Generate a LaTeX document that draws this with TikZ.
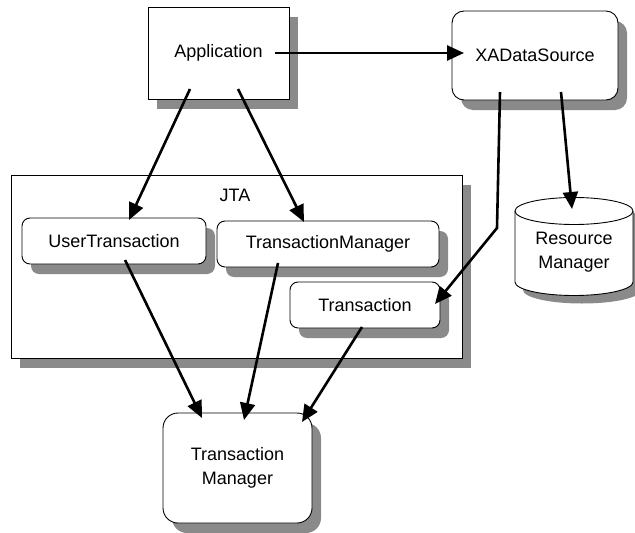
\documentclass[tikz,border=0pt]{standalone}
\usepackage{fontspec}
\setmainfont{Liberation Sans}
\usetikzlibrary{arrows.meta,shadows}
\definecolor{shadowgray}{HTML}{8A8A8A}
\tikzset{
  shd/.style={drop shadow={shadow xshift=9pt, shadow yshift=-10pt, fill=shadowgray, opacity=1}},
  box/.style={draw=black, line width=0.9pt, fill=white, shd, inner sep=0pt,
              font=\fontsize{18}{24}\selectfont, align=center},
  rbox/.style={box, rounded corners=10pt},
  conn/.style={line width=2.6pt, -{Triangle[length=17pt,width=15pt]}},
  lbl/.style={font=\fontsize{18}{24}\selectfont, align=center, inner sep=0pt}
}
\begin{document}
\begin{tikzpicture}[x=1pt,y=-1pt]
\useasboundingbox (0,0) rectangle (635,533);
% JTA container
\node[box, minimum width=451pt, minimum height=183pt] (jta) at (236.5,266.5) {};
\node[lbl] (jtalbl) at (235,195) {JTA};
% boxes
\node[box, minimum width=141pt, minimum height=92pt] (app) at (218.5,53) {Application};
\node[rbox, rounded corners=12pt, minimum width=166pt, minimum height=89pt] (xads) at (535,55.5) {XADataSource};
\node[rbox, rounded corners=8pt, minimum width=184pt, minimum height=46pt] (ut) at (114,241) {UserTransaction};
\node[rbox, rounded corners=8pt, minimum width=222pt, minimum height=46pt] (tm) at (328,244) {TransactionManager};
\node[rbox, rounded corners=8pt, minimum width=150pt, minimum height=46pt] (tx) at (365,305) {Transaction};
\node[rbox, rounded corners=15pt, minimum width=149pt, minimum height=110pt] (btm) at (237.5,468) {Transaction\\Manager};
% cylinder
\path[draw=black, line width=0.9pt, fill=white, drop shadow={shadow xshift=8pt, shadow yshift=-8pt, fill=shadowgray, opacity=1}]
  (515,211) -- (515,282) arc[start angle=180, end angle=360, x radius=59pt, y radius=13.5pt]
  -- (633,211) arc[start angle=0, end angle=180, x radius=59pt, y radius=13.5pt] -- cycle;
\draw[line width=0.9pt] (515,211) arc[start angle=180, end angle=360, x radius=59pt, y radius=13.5pt];
\node[lbl] (rm) at (574,252) {Resource\\Manager};
\coordinate (rmtop) at (572,209);
% connector anchor points
\coordinate (a1) at (190,89);
\coordinate (a2) at (238,89);
\coordinate (a3) at (275,53);
\coordinate (a3e) at (464,53);
\coordinate (x1) at (500,92);
\coordinate (xbend) at (497,228);
\coordinate (x2) at (561,92);
\coordinate (ute) at (129,220);
\coordinate (tme) at (304,222);
\coordinate (txe) at (435,304);
\coordinate (u1) at (125,260);
\coordinate (t1) at (278,263);
\coordinate (r1) at (362,327);
\coordinate (b1) at (202,418);
\coordinate (b2) at (244,420);
\coordinate (b3) at (302,422);
% connectors
\draw[conn] (a1) -- (ute);
\draw[conn] (a2) -- (tme);
\draw[conn] (a3) -- (a3e);
\draw[conn] (x1) -- (xbend) -- (txe);
\draw[conn] (x2) -- (rmtop);
\draw[conn] (u1) -- (b1);
\draw[conn] (t1) -- (b2);
\draw[conn] (r1) -- (b3);
\end{tikzpicture}
\end{document}
